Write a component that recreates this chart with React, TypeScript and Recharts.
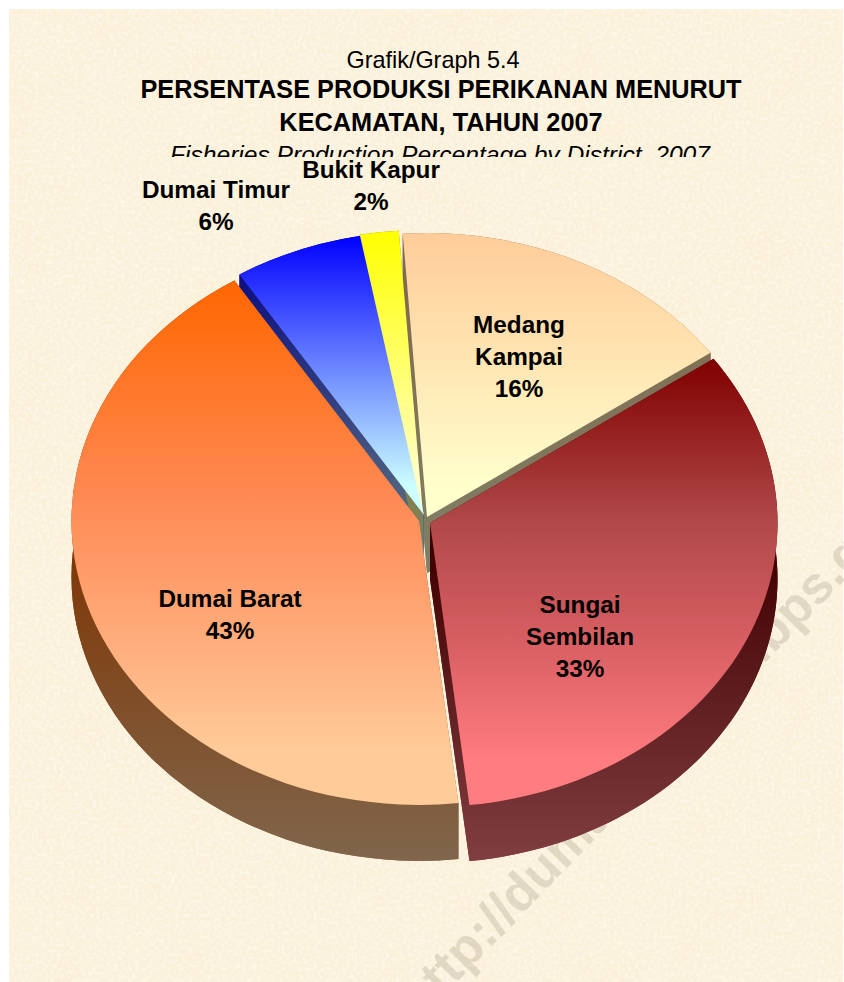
import React from "react";
import { PieChart, Pie } from "recharts";

const districts = ["Medang Kampai", "Sungai Sembilan", "Dumai Barat", "Dumai Timur", "Bukit Kapur"];
const shares = [16.3, 33, 42.9, 6, 1.8];
const titleLines = ["PERSENTASE PRODUKSI PERIKANAN MENURUT", "KECAMATAN, TAHUN 2007"];

const pieData = districts.map((name, i) => ({ name, value: shares[i] }));

const W = 844;
const H = 982;
const CX = 425;
const CY = 520;
const RX = 347.5;
const RY_RATIO = 0.817;
const DEPTH = 56;

// look of each slice: explode offset, gradients, where its label sits
const SLICE_STYLE: Record<string, any> = {
  "Medang Kampai": {
    dx: 2, dy: -3,
    top: ["#ffcc99", "#ffffcc"],
    side: ["#80664c", "#808066"],
    label: { x: 519, y: 333, lines: ["Medang", "Kampai"] },
  },
  "Sungai Sembilan": {
    dx: 5, dy: 3,
    top: ["#800000", "#ff7c80"],
    mid: [[0.36, "#b04848"], [0.65, "#da6064"]],
    side: ["#400000", "#803e40"],
    sideFrom: 0.38,
    label: { x: 580, y: 613, lines: ["Sungai", "Sembilan"] },
  },
  "Dumai Barat": {
    dx: -6, dy: 1,
    top: ["#ff6600", "#ffcc99"],
    mid: [[0.42, "#ff8a55"], [0.75, "#ffb585"]],
    side: ["#7f3300", "#80664c"],
    sideFrom: 0.42,
    label: { x: 230, y: 607, lines: ["Dumai Barat"] },
  },
  "Dumai Timur": {
    dx: -1, dy: -5,
    top: ["#0000ff", "#ccffff"],
    side: ["#000080", "#668080"],
    label: { x: 216, y: 198, lines: ["Dumai Timur"] },
  },
  "Bukit Kapur": {
    dx: -2, dy: -6,
    top: ["#ffff00", "#ffffcc"],
    side: ["#808000", "#808066"],
    label: { x: 371, y: 178, lines: ["Bukit Kapur"] },
  },
};

const geometry = (props: any) => {
  const s = SLICE_STYLE[props.name ?? props.payload?.name];
  const cx = props.cx + s.dx;
  const cy = props.cy + s.dy;
  const rx = props.outerRadius;
  const ry = props.outerRadius * RY_RATIO;
  const at = (deg: number) => {
    const a = (deg * Math.PI) / 180;
    return [cx + rx * Math.cos(a), cy - ry * Math.sin(a)];
  };
  const { startAngle, endAngle } = props;
  const p1 = at(startAngle);
  const p2 = at(endAngle);
  const large = Math.abs(startAngle - endAngle) > 180 ? 1 : 0;
  let minY = cy;
  let maxY = cy;
  for (let i = 0; i <= 40; i++) {
    const y = at(startAngle + ((endAngle - startAngle) * i) / 40)[1];
    minY = Math.min(minY, y);
    maxY = Math.max(maxY, y);
  }
  return { s, cx, cy, rx, ry, p1, p2, large, minY, maxY };
};

const sliceKey = (props: any) => (props.name ?? props.payload?.name).replace(/\s/g, "");

const SideShape = (props: any) => {
  const { s, cx, cy, rx, ry, p1, p2, large, minY, maxY } = geometry(props);
  const id = `side-${sliceKey(props)}`;
  const d = DEPTH;
  const fill = `url(#${id})`;
  return (
    <g>
      <defs>
        <linearGradient id={id} gradientUnits="userSpaceOnUse" x1="0" x2="0" y1={minY} y2={maxY + d}>
          <stop offset={s.sideFrom ?? 0} stopColor={s.side[0]} />
          <stop offset="1" stopColor={s.side[1]} />
        </linearGradient>
      </defs>
      <path fill={fill} d={`M${cx},${cy + d}L${p1[0]},${p1[1] + d}A${rx},${ry} 0 ${large} 1 ${p2[0]},${p2[1] + d}Z`} />
      <path fill={fill} d={`M${cx},${cy}L${p1[0]},${p1[1]}L${p1[0]},${p1[1] + d}L${cx},${cy + d}Z`} />
      <path fill={fill} d={`M${cx},${cy}L${p2[0]},${p2[1]}L${p2[0]},${p2[1] + d}L${cx},${cy + d}Z`} />
      <path
        fill={fill}
        d={`M${p1[0]},${p1[1]}A${rx},${ry} 0 ${large} 1 ${p2[0]},${p2[1]}L${p2[0]},${p2[1] + d}A${rx},${ry} 0 ${large} 0 ${p1[0]},${p1[1] + d}Z`}
      />
    </g>
  );
};

const TopShape = (props: any) => {
  const { s, cx, cy, rx, ry, p1, p2, large, minY, maxY } = geometry(props);
  const id = `top-${sliceKey(props)}`;
  return (
    <g>
      <defs>
        <linearGradient id={id} gradientUnits="userSpaceOnUse" x1="0" x2="0" y1={minY} y2={maxY}>
          <stop offset="0" stopColor={s.top[0]} />
          {(s.mid ?? []).map(([offset, color]: [number, string]) => (
            <stop key={offset} offset={offset} stopColor={color} />
          ))}
          <stop offset="0.9" stopColor={s.top[1]} />
        </linearGradient>
      </defs>
      <path
        fill={`url(#${id})`}
        d={`M${cx},${cy}L${p1[0]},${p1[1]}A${rx},${ry} 0 ${large} 1 ${p2[0]},${p2[1]}Z`}
      />
    </g>
  );
};

const SliceLabel = (props: any) => {
  const s = SLICE_STYLE[props.name ?? props.payload?.name];
  const { x, y, lines } = s.label;
  const value = props.value ?? props.payload?.value;
  const rows = [...lines, `${Math.round(value)}%`];
  return (
    <text
      x={x}
      y={y}
      textAnchor="middle"
      fontFamily="'Liberation Sans', Arial, sans-serif"
      fontSize={24.3}
      fontWeight="bold"
      fill="#000"
    >
      {rows.map((row: string, i: number) => (
        <tspan key={row} x={x} dy={i === 0 ? 0 : 32}>
          {row}
        </tspan>
      ))}
    </text>
  );
};

const Paper = () => (
  <svg width={W} height={H} style={{ position: "absolute", left: 0, top: 0 }}>
    <defs>
      <filter id="paper" x="0" y="0" width="100%" height="100%">
        <feTurbulence type="fractalNoise" baseFrequency="0.018" numOctaves="4" seed="7" />
        <feColorMatrix
          type="matrix"
          values="0 0 0 0 0.96  0 0 0 0 0.86  0 0 0 0 0.66  1.3 0 0 0 -0.5"
        />
      </filter>
      <filter id="paperLight" x="0" y="0" width="100%" height="100%">
        <feTurbulence type="fractalNoise" baseFrequency="0.28" numOctaves="2" seed="21" />
        <feColorMatrix
          type="matrix"
          values="0 0 0 0 1  0 0 0 0 0.98  0 0 0 0 0.9  0 1.6 0 0 -0.65"
        />
      </filter>
    </defs>
    <rect width={W} height={H} fill="#fff" />
    <rect x={9} y={9} width={834} height={973} fill="#fbf0da" />
    <rect x={9} y={9} width={834} height={973} filter="url(#paper)" />
    <rect x={9} y={9} width={834} height={973} filter="url(#paperLight)" />
  </svg>
);

export default function App() {
  return (
    <div style={{ position: "absolute", left: 0, top: 0, width: W, height: H, overflow: "hidden" }}>
      <Paper />
      <div style={{ position: "absolute", left: 0, top: 0 }}>
        <PieChart width={W} height={H} margin={{ top: 0, right: 0, bottom: 0, left: 0 }}>
          <defs>
            <clipPath id="subtitleClip">
              <rect x={0} y={0} width={W} height={157} />
            </clipPath>
          </defs>
          <g fontFamily="'Liberation Sans', Arial, sans-serif" textAnchor="middle" fill="#000">
            <text x={433} y={68} fontSize={23.4}>
              Grafik/Graph 5.4
            </text>
            {titleLines.map((line, i) => (
              <text key={line} x={441} y={98 + i * 33} fontSize={25.3} fontWeight="bold">
                {line}
              </text>
            ))}
            <text x={440} y={163} fontSize={24.6} fontStyle="italic" clipPath="url(#subtitleClip)">
              Fisheries Production Percentage by District, 2007
            </text>
          </g>
          <Pie
            data={pieData}
            dataKey="value"
            nameKey="name"
            cx={CX}
            cy={CY}
            outerRadius={RX}
            startAngle={94}
            endAngle={-266}
            stroke="none"
            shape={SideShape}
            label={false}
            labelLine={false}
            isAnimationActive={false}
          />
          <text
            transform="translate(420,1020) rotate(-46)"
            fontFamily="'Liberation Sans', Arial, sans-serif"
            fontWeight="bold"
            fontSize={52}
            fill="#4a3a20"
            fillOpacity={0.14}
          >
            http://dumaikotakab.bps.go.id
          </text>
          <Pie
            data={pieData}
            dataKey="value"
            nameKey="name"
            cx={CX}
            cy={CY}
            outerRadius={RX}
            startAngle={94}
            endAngle={-266}
            stroke="none"
            shape={TopShape}
            label={SliceLabel}
            labelLine={false}
            isAnimationActive={false}
          />
        </PieChart>
      </div>
    </div>
  );
}
